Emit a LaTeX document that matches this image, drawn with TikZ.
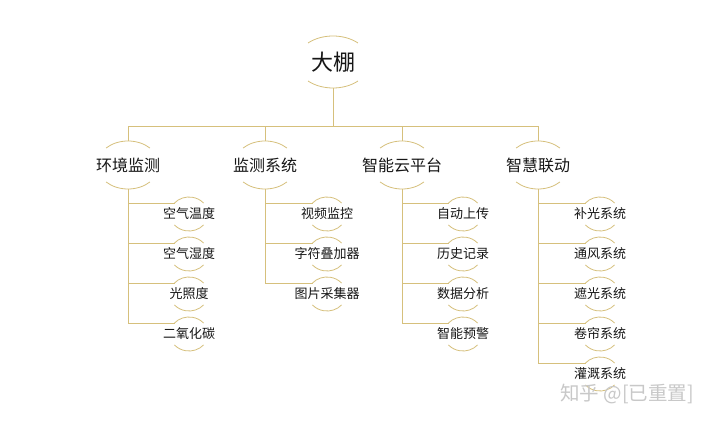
\documentclass[tikz,border=0pt]{standalone}
\usepackage{fontspec}
\newfontfamily\cjk{Noto Sans CJK SC}
\usetikzlibrary{calc}
\definecolor{gold}{RGB}{214,192,124}
\definecolor{ink}{RGB}{22,22,22}
\definecolor{wmark}{RGB}{200,200,200}
\newcommand\ovalarcs[4]{%
  \draw[arcline] (#1.center) ++(#4:#2 and #3) arc[start angle=#4,end angle=180-#4,x radius=#2,y radius=#3];
  \draw[arcline] (#1.center) ++(180+#4:#2 and #3) arc[start angle=180+#4,end angle=360-#4,x radius=#2,y radius=#3];}
\begin{document}
\begin{tikzpicture}[x=1pt,y=-1pt,
  link/.style={draw=gold, line width=0.8pt},
  arcline/.style={draw=gold, line width=0.8pt},
  rootnode/.style={font=\cjk\fontsize{22}{22}\selectfont, text=ink, inner sep=0pt, minimum height=52pt},
  topicnode/.style={font=\cjk\fontsize{16}{16}\selectfont, text=ink, inner sep=0pt, minimum height=48pt},
  leafnode/.style={font=\cjk\fontsize{13}{13}\selectfont, text=ink, inner sep=0pt, minimum height=34pt},
  wmnode/.style={font=\cjk\fontsize{19.5}{19.5}\selectfont, text=wmark, inner sep=0pt}]
\fill[white] (0,0) rectangle (720,427);
\useasboundingbox (0,0) rectangle (720,427);

% nodes
\node[rootnode] (root) at (333,62) {大棚};
\node[topicnode] (t1) at (128,165) {环境监测};
\node[topicnode] (t2) at (265,165) {监测系统};
\node[topicnode] (t3) at (402,165) {智能云平台};
\node[topicnode] (t4) at (538,165) {智慧联动};

\node[leafnode] (a1) at (189,214) {空气温度};
\node[leafnode] (a2) at (189,254) {空气湿度};
\node[leafnode] (a3) at (189,294) {光照度};
\node[leafnode] (a4) at (189,334) {二氧化碳};

\node[leafnode] (b1) at (327,214) {视频监控};
\node[leafnode] (b2) at (327,254) {字符叠加器};
\node[leafnode] (b3) at (327,294) {图片采集器};

\node[leafnode] (c1) at (463,214) {自动上传};
\node[leafnode] (c2) at (463,254) {历史记录};
\node[leafnode] (c3) at (463,294) {数据分析};
\node[leafnode] (c4) at (463,334) {智能预警};

\node[leafnode] (d1) at (600,214) {补光系统};
\node[leafnode] (d2) at (600,254) {通风系统};
\node[leafnode] (d3) at (600,294) {遮光系统};
\node[leafnode] (d4) at (600,334) {卷帘系统};
\node[leafnode] (d5) at (600,374) {灌溉系统};

% arcs
\ovalarcs{root}{36.6}{26}{47}
\foreach \n in {t1,t2,t3,t4} {\ovalarcs{\n}{31}{24}{45}}
\foreach \n in {a1,a2,a3,a4,b1,b2,b3,c1,c2,c3,c4,d1,d2,d3,d4,d5} {\ovalarcs{\n}{19}{17}{40}}

% connectors
\coordinate (bus) at (333,126);
\draw[link] (root.south) -- (bus);
\foreach \t in {t1,t2,t3,t4} {\draw[link] (bus) -| (\t.north);}
\foreach \l in {a1,a2,a3,a4} {\draw[link] (t1.south) |- ($(\l.center)+(-14.5,-11)$);}
\foreach \l in {b1,b2,b3} {\draw[link] (t2.south) |- ($(\l.center)+(-14.5,-11)$);}
\foreach \l in {c1,c2,c3,c4} {\draw[link] (t3.south) |- ($(\l.center)+(-14.5,-11)$);}
\foreach \l in {d1,d2,d3,d4,d5} {\draw[link] (t4.south) |- ($(\l.center)+(-14.5,-11)$);}

% watermark
\node[wmnode] (wm) at (627,394) {知乎 @[已重置]};
\end{tikzpicture}
\end{document}
